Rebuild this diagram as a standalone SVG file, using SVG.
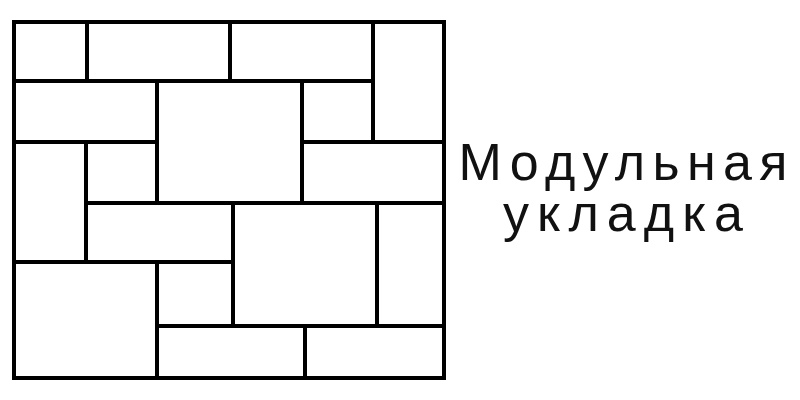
<svg xmlns="http://www.w3.org/2000/svg" width="800" height="400" viewBox="0 0 800 400">
<style>
.j{stroke:#000;stroke-width:4;stroke-linecap:square;fill:none}
.t{font-family:"Liberation Sans",Arial,sans-serif;font-size:52px;fill:#111;text-anchor:middle}
</style>
<rect width="800" height="400" fill="#fff"/>
<g id="paving">
<rect class="j" x="14" y="22" width="430" height="356"/>
<path class="j" d="M14 81H373 M14 142H157 M302 142H444 M86 203H444 M14 262H233 M157 326H444
M87 22V81 M230 22V81 M373 22V142 M157 81V203 M302 81V203 M86 142V262 M233 203V326 M377 203V326 M157 262V378 M305 326V378"/>
</g>
<g id="label">
<text class="t" x="623" y="180" textLength="329" lengthAdjust="spacing">Модульная</text>
<text class="t" x="623" y="231" textLength="240" lengthAdjust="spacing">укладка</text>
</g>
</svg>
